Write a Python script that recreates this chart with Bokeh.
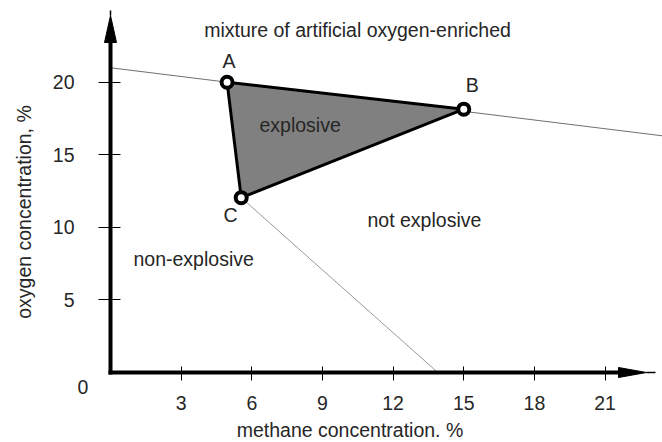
import math
from bokeh.plotting import figure
from bokeh.models import Range1d, FixedTicker, Label
from bokeh.embed import file_html
from bokeh.resources import INLINE

# ---------------- data ----------------
point_names = ["A", "B", "C"]
methane_pts = [4.95, 15.0, 5.55]      # methane concentration, %
oxygen_pts = [20.0, 18.15, 12.05]     # oxygen concentration, %

air_line_methane = [0.0, 23.44]       # dilution line with air
air_line_oxygen = [21.0, 16.31]

nose_line_methane = [5.55, 13.9]      # limiting line from nose C
nose_line_oxygen = [12.05, 0.0]

x_ticks = [3, 6, 9, 12, 15, 18, 21]
y_ticks = [5, 10, 15, 20]

title_text = "mixture of artificial oxygen-enriched"
x_label = "methane concentration. %"
y_label = "oxygen concentration, %"
region_texts = ["explosive", "not explosive", "non-explosive"]

# ---------------- geometry / style ----------------
W, H = 662, 442
PX_X = 23.55          # pixels per methane unit
PX_Y = 14.51          # pixels per oxygen unit
OX, OY = 110, 372     # origin position on the canvas, px
BASE_FIX = 7          # baseline correction for alphabetic labels, px

x_start = -OX / PX_X
x_end = (W - OX) / PX_X
y_end = OY / PX_Y
y_start = (OY - H) / PX_Y

def dx(px):
    return (px - OX) / PX_X

def dy(py):
    return (OY - py) / PX_Y

FONT = "Liberation Sans"
FS = "19.5px"
TXT = "#262626"

p = figure(width=W, height=H, output_backend="svg", toolbar_location=None,
           x_range=Range1d(x_start, x_end), y_range=Range1d(y_start, y_end),
           min_border_left=0, min_border_right=0, min_border_top=0,
           min_border_bottom=0, outline_line_color=None,
           background_fill_color="white", border_fill_color="white")
p.grid.visible = False

# arrow geometry
y_arrow_base, y_arrow_tip, y_arrow_spike = dy(42), dy(15), dy(10)
y_arrow_hw = 6 / PX_X
x_arrow_base, x_arrow_tip, x_arrow_spike = dx(618), dx(646), dx(655)
x_arrow_hh = 5 / PX_Y

for ax in (p.xaxis, p.yaxis):
    ax.fixed_location = 0
    ax.axis_line_width = 4
    ax.axis_line_color = "black"
    ax.axis_line_cap = "square"
    ax.major_tick_line_color = "black"
    ax.major_tick_line_width = 1
    ax.minor_tick_line_color = None
    ax.major_label_text_font = FONT
    ax.major_label_text_font_size = FS
    ax.major_label_text_color = TXT

p.xaxis.ticker = FixedTicker(ticks=x_ticks)
p.yaxis.ticker = FixedTicker(ticks=y_ticks)
p.xaxis.bounds = (0, x_arrow_base + 0.3)
p.yaxis.bounds = (0, y_arrow_base + 0.3)
p.yaxis.major_tick_in = 10
p.yaxis.major_tick_out = 12
p.yaxis.major_label_standoff = 24
p.xaxis.major_tick_in = 6
p.xaxis.major_tick_out = 8
p.xaxis.major_label_standoff = 15

# thin boundary lines
p.line(air_line_methane, air_line_oxygen, line_color="#707070", line_width=1.1)
p.line(nose_line_methane, nose_line_oxygen, line_color="#999999", line_width=1)

# explosive triangle
p.patch(methane_pts, oxygen_pts, fill_color="#808080", line_color="black",
        line_width=3, line_join="round")
p.scatter(methane_pts, oxygen_pts, marker="circle", size=11,
          fill_color="white", line_color="black", line_width=4)

# arrow heads
p.patch([-y_arrow_hw, y_arrow_hw, 0], [y_arrow_base, y_arrow_base, y_arrow_tip],
        fill_color="black", line_color="black", line_width=1)
p.line([0, 0], [y_arrow_tip, y_arrow_spike], line_color="black", line_width=1.5)
p.patch([x_arrow_base, x_arrow_base, x_arrow_tip], [-x_arrow_hh, x_arrow_hh, 0],
        fill_color="black", line_color="black", line_width=1)
p.line([x_arrow_tip, x_arrow_spike], [0, 0], line_color="black", line_width=1.5)

def lab(x, y, text, align="left", baseline="alphabetic", ox=0, oy=0, angle=0):
    if baseline == "alphabetic":
        oy += BASE_FIX
    p.add_layout(Label(x=x, y=y, text=text, x_offset=ox, y_offset=oy,
                       text_align=align, text_baseline=baseline, angle=angle,
                       text_font=FONT, text_font_size=FS, text_color=TXT))

# point names
name_offsets = [(2, 14.7), (8.5, 16.8), (-10.7, -24.7)]
for n, mx, oy_, (ox, oy) in zip(point_names, methane_pts, oxygen_pts, name_offsets):
    lab(mx, oy_, n, align="center", ox=ox, oy=oy)

# titles / region texts
lab(dx(357), dy(36), title_text, align="center")
lab(dx(259), dy(131), region_texts[0])
lab(dx(367), dy(226), region_texts[1])
lab(dx(133), dy(265), region_texts[2])
lab(0, 0, "0", align="center", baseline="middle", ox=-27.5, oy=-14.5)
lab(dx(349.5), dy(436), x_label, align="center")
lab(dx(23.5), dy(211.5), y_label, align="center", baseline="middle",
    angle=math.pi / 2)

open("out.html", "w").write(file_html(p, INLINE))
